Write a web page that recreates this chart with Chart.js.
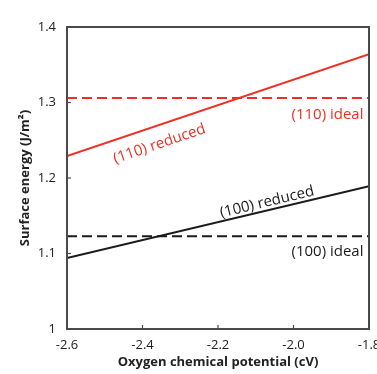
<!DOCTYPE html>
<html><head><meta charset="utf-8">
<script src="https://cdn.jsdelivr.net/npm/chart.js@4/dist/chart.umd.min.js"></script>
<style>html,body{margin:0;padding:0;background:#fff}#wrap{width:377px;height:374px}</style>
</head><body><div id="wrap"><canvas id="c" width="377" height="374"></canvas></div>
<script>
const xEnds = [-2.6, -1.8];
const reduced110 = [1.229, 1.364];
const ideal110 = [1.306, 1.306];
const reduced100 = [1.094, 1.189];
const ideal100 = [1.123, 1.123];
const xTicks = [-2.6, -2.4, -2.2, -2.0, -1.8];
const yTicks = [1, 1.1, 1.2, 1.3, 1.4];
const labels = ["(110) reduced", "(110) ideal", "(100) reduced", "(100) ideal"];

const RED = '#ee2f24', BLACK = '#1b1b1b';
const pts = (ys) => xEnds.map((x, i) => ({x, y: ys[i]}));

const annot = {
  id: 'annot',
  afterDatasetsDraw(chart) {
    const {ctx, chartArea: a, scales: {x, y}} = chart;
    ctx.save();
    ctx.strokeStyle = '#4a4a4a'; ctx.lineWidth = 2;
    ctx.strokeRect(a.left, a.top, a.right - a.left, a.bottom - a.top);
    ctx.lineWidth = 1.2;
    xTicks.forEach(v => { const px = x.getPixelForValue(v); ctx.beginPath(); ctx.moveTo(px, a.bottom); ctx.lineTo(px, a.bottom - 4); ctx.stroke(); });
    yTicks.forEach(v => { const py = y.getPixelForValue(v); ctx.beginPath(); ctx.moveTo(a.left, py); ctx.lineTo(a.left + 4, py); ctx.stroke(); });
    ctx.font = '15px "Open Sans", "Noto Sans", sans-serif';
    ctx.textAlign = 'center'; ctx.textBaseline = 'middle';
    function angle(ys) {
      const dx = x.getPixelForValue(xEnds[1]) - x.getPixelForValue(xEnds[0]);
      const dy = y.getPixelForValue(ys[1]) - y.getPixelForValue(ys[0]);
      return Math.atan2(dy, dx);
    }
    function put(text, color, xv, yv, ang) {
      ctx.save();
      ctx.fillStyle = color;
      ctx.translate(x.getPixelForValue(xv), y.getPixelForValue(yv));
      ctx.rotate(ang);
      ctx.fillText(text, 0, 0);
      ctx.restore();
    }
    put(labels[0], RED, -2.355, 1.245, angle(reduced110));
    put(labels[1], RED, -1.91, 1.284, 0);
    put(labels[2], BLACK, -2.07, 1.168, angle(reduced100));
    put(labels[3], BLACK, -1.91, 1.102, 0);
    ctx.restore();
  }
};

const tickFont = {family: '"Open Sans", "Noto Sans", sans-serif', size: 13};
const titleFont = {family: '"Open Sans", "Noto Sans", sans-serif', size: 13, weight: 'bold'};
new Chart(document.getElementById('c'), {
  type: 'line',
  data: {
    datasets: [
      {data: pts(ideal110), borderColor: RED, borderWidth: 2, borderDash: [10, 5], pointRadius: 0},
      {data: pts(reduced110), borderColor: RED, borderWidth: 2, pointRadius: 0},
      {data: pts(ideal100), borderColor: BLACK, borderWidth: 2, borderDash: [10, 5], pointRadius: 0},
      {data: pts(reduced100), borderColor: BLACK, borderWidth: 2, pointRadius: 0}
    ]
  },
  options: {
    responsive: false, animation: false,
    layout: {padding: {top: 27, right: 8, left: 0, bottom: 0}},
    plugins: {legend: {display: false}, tooltip: {enabled: false}},
    scales: {
      x: {
        type: 'linear', min: -2.6, max: -1.8,
        afterBuildTicks: s => { s.ticks = xTicks.map(v => ({value: v})); },
        ticks: {color: '#222', font: tickFont, padding: 0, maxRotation: 0,
          callback: v => v.toFixed(1)},
        grid: {display: false}, border: {display: false},
        title: {display: true, text: 'Oxygen chemical potential (cV)', color: '#222',
          font: titleFont, padding: {top: 4}},
        afterFit: s => { s.height = 45; s.paddingRight = 0; s.paddingLeft = 0; }
      },
      y: {
        type: 'linear', min: 1, max: 1.4,
        afterBuildTicks: s => { s.ticks = yTicks.map(v => ({value: v})); },
        ticks: {color: '#222', font: tickFont, padding: 3,
          callback: v => (v === 1 ? '1' : v.toFixed(1))},
        grid: {display: false}, border: {display: false},
        title: {display: true, text: 'Surface energy (J/m²)', color: '#222',
          font: titleFont, padding: {top: 17, bottom: 0}},
        afterFit: s => { s.width = 67; s.paddingTop = 0; s.paddingBottom = 0; }
      }
    }
  },
  plugins: [annot]
});
</script></body></html>
